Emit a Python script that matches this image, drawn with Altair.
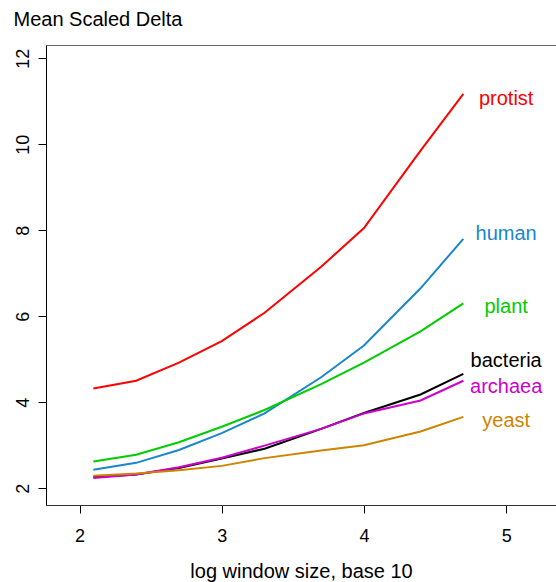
import altair as alt
import pandas as pd

# log10 window sizes
x_vals = [2.097, 2.398, 2.699, 3.0, 3.301, 3.699, 4.0, 4.398, 4.699]

protist = [4.32, 4.50, 4.92, 5.42, 6.08, 7.15, 8.05, 9.85, 11.17]
human = [2.43, 2.59, 2.89, 3.28, 3.74, 4.58, 5.32, 6.65, 7.80]
plant = [2.62, 2.78, 3.07, 3.43, 3.82, 4.42, 4.92, 5.65, 6.30]
bacteria = [2.26, 2.32, 2.47, 2.69, 2.92, 3.38, 3.75, 4.18, 4.66]
archaea = [2.24, 2.32, 2.49, 2.71, 2.99, 3.38, 3.74, 4.04, 4.50]
yeast = [2.29, 2.34, 2.42, 2.52, 2.70, 2.88, 3.00, 3.32, 3.66]

series_names = ["protist", "human", "plant", "bacteria", "archaea", "yeast"]
series_colors = ["#FF0000", "#1A86CC", "#00CD00", "#000000", "#CD00CD", "#CD8500"]
label_x = [5.0, 5.0, 5.0, 5.0, 5.0, 5.0]
label_y = [10.91, 7.77, 6.07, 4.83, 4.21, 3.43]

series_values = [protist, human, plant, bacteria, archaea, yeast]

rows = []
for name, vals in zip(series_names, series_values):
    for xv, yv in zip(x_vals, vals):
        rows.append({"series": name, "x": xv, "y": yv})
df = pd.DataFrame(rows)
lab = pd.DataFrame({"series": series_names, "x": label_x, "y": label_y})

FONT = "Liberation Sans"
xscale = alt.Scale(domain=[1.764, 5.3505], nice=False, zero=False)
yscale = alt.Scale(domain=[1.61, 12.308], nice=False, zero=False)
cscale = alt.Scale(domain=series_names, range=series_colors)

lines = alt.Chart(df).mark_line(strokeWidth=2, clip=True).encode(
    x=alt.X("x:Q", scale=xscale, axis=alt.Axis(
        values=[2, 3, 4, 5], format="d", title="log window size, base 10",
        grid=False, tickSize=8, labelPadding=14, labelFontSize=18,
        labelFont=FONT, labelColor="#000", tickColor="#000",
        domainColor="#333", titleFont=FONT, titleFontSize=20,
        titleFontWeight="normal", titleColor="#000", titleY=72,
        titleBaseline="alphabetic", labelFlush=False)),
    y=alt.Y("y:Q", scale=yscale, axis=alt.Axis(
        values=[2, 4, 6, 8, 10, 12], format="d", title="Mean Scaled Delta",
        grid=False, tickSize=8, labelPadding=6, labelFontSize=18,
        labelFont=FONT, labelAngle=270, labelAlign="center",
        labelBaseline="bottom", labelColor="#000", tickColor="#000",
        domainColor="#000", titleFont=FONT, titleFontSize=20,
        titleFontWeight="normal", titleColor="#000", titleAngle=0,
        titleAlign="left", titleBaseline="alphabetic", titleX=-33,
        titleY=-20, labelFlush=False)),
    color=alt.Color("series:N", scale=cscale, legend=None),
    detail="series:N",
)

labels = alt.Chart(lab).mark_text(
    font=FONT, fontSize=20, align="center", baseline="alphabetic"
).encode(
    x=alt.X("x:Q", scale=xscale),
    y=alt.Y("y:Q", scale=yscale),
    text="series:N",
    color=alt.Color("series:N", scale=cscale, legend=None),
)

chart = alt.layer(lines, labels).properties(
    width=510, height=460,
    autosize=alt.AutoSizeParams(type="none"),
    padding={"left": 46, "top": 45, "right": 0, "bottom": 77},
    background="white",
).configure_view(stroke="#666666", strokeWidth=1)

chart.save("out.html", embed_options={"renderer": "svg", "actions": False})
